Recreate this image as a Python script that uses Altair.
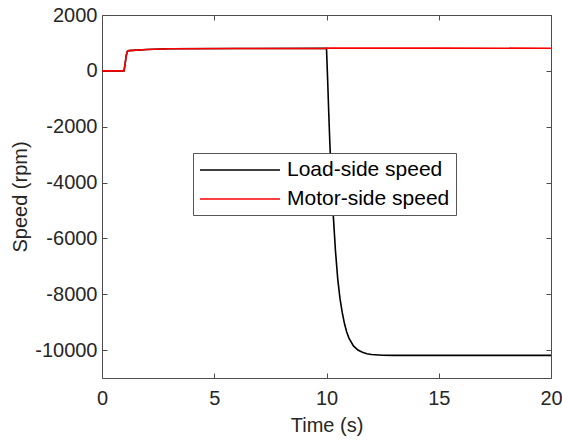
import altair as alt
import pandas as pd

# ---- data ----
series_names = ["Load-side speed", "Motor-side speed"]
series_colors = ["#000000", "#ff0000"]

motor_t = [0, 0.98, 1.03, 1.08, 1.13, 1.2, 2, 3, 6, 10, 10.05, 15, 20]
motor_v = [0, 0, 250, 550, 700, 725, 765, 790, 800, 805, 820, 815, 810]

load_t = [0, 0.98, 1.03, 1.08, 1.13, 1.2, 2, 3, 6, 10, 10.05, 10.1, 10.15,
          10.2, 10.3, 10.4, 10.5, 10.6, 10.7, 10.8, 10.9, 11.0, 11.2, 11.4,
          11.6, 11.8, 12.0, 12.5, 13.0, 20]
load_v = [0, 0, 250, 550, 700, 725, 765, 790, 800, 805, -300, -1500, -2600,
          -3550, -5150, -6450, -7450, -8150, -8650, -9050, -9350, -9570, -9850,
          -10000, -10080, -10130, -10160, -10185, -10190, -10190]

x_ticks = [0, 5, 10, 15, 20]
y_ticks = [2000, 0, -2000, -4000, -6000, -8000, -10000]

# ---- styling ----
W, H = 449, 363
AX = "#4d4d4d"
TXT = "#262626"
FONT = "Liberation Sans"
TK = 5  # inward tick length
FS = 20

df = pd.concat([
    pd.DataFrame({"t": load_t, "v": load_v, "s": series_names[0], "o": range(len(load_t))}),
    pd.DataFrame({"t": motor_t, "v": motor_v, "s": series_names[1], "o": range(len(motor_t))}),
])

xs = alt.Scale(domain=[0, 20], nice=False, zero=False)
ys = alt.Scale(domain=[-11000, 2000], nice=False, zero=False)

common = dict(grid=False, domain=False, ticks=True, tickSize=TK, offset=-TK,
              tickColor=AX, tickWidth=1, labelFlush=False)

lines = alt.Chart(df).mark_line(strokeWidth=1.6).encode(
    x=alt.X("t:Q", scale=xs, axis=alt.Axis(
        orient="bottom", values=x_ticks, title="Time (s)", **common,
        labelFont=FONT, labelFontSize=FS, labelColor=TXT, labelPadding=10,
        titleFont=FONT, titleFontSize=FS, titleFontWeight="normal", titleColor=TXT,
        titleY=37 + TK, titleBaseline="top")),
    y=alt.Y("v:Q", scale=ys, axis=alt.Axis(
        orient="left", values=y_ticks, title="Speed (rpm)", **common,
        labelFont=FONT, labelFontSize=FS, labelColor=TXT, labelPadding=5,
        labelExpr="'' + datum.value",
        titleFont=FONT, titleFontSize=FS, titleFontWeight="normal", titleColor=TXT,
        titleX=-82 - TK, titleY=H / 2, titleAngle=270, titleBaseline="middle",
        titleAlign="center")),
    color=alt.Color("s:N", scale=alt.Scale(domain=series_names, range=series_colors),
                    legend=alt.Legend(
                        title=None, orient="none", legendX=91, legendY=138,
                        direction="vertical", symbolType="M-1,0H7", symbolSize=400,
                        symbolStrokeWidth=1.6, labelFont=FONT, labelFontSize=21,
                        labelLimit=400,
                        labelColor="#000000", labelOffset=66, padding=6, rowPadding=8,
                        strokeColor="#555555", fillColor="white")),
    order="o:Q",
)

# invisible copy carrying the top / right tick axes of the box
box_axes = alt.Chart(df).mark_line(opacity=0).encode(
    x=alt.X("t:Q", scale=xs, axis=alt.Axis(orient="top", values=x_ticks, title=None,
                                           labels=False, **common)),
    y=alt.Y("v:Q", scale=ys, axis=alt.Axis(orient="right", values=y_ticks, title=None,
                                           labels=False, **common)),
    detail="s:N",
    order="o:Q",
)

chart = alt.layer(lines, box_axes).resolve_axis(
    x="independent", y="independent"
).properties(
    width=W, height=H,
    padding={"left": 102, "top": 15, "right": 11, "bottom": 62},
    autosize=alt.AutoSizeParams(type="none"),
    background="white",
).configure_view(stroke=AX, strokeWidth=1)

chart.save("out.html", embed_options={"renderer": "svg", "actions": False})
